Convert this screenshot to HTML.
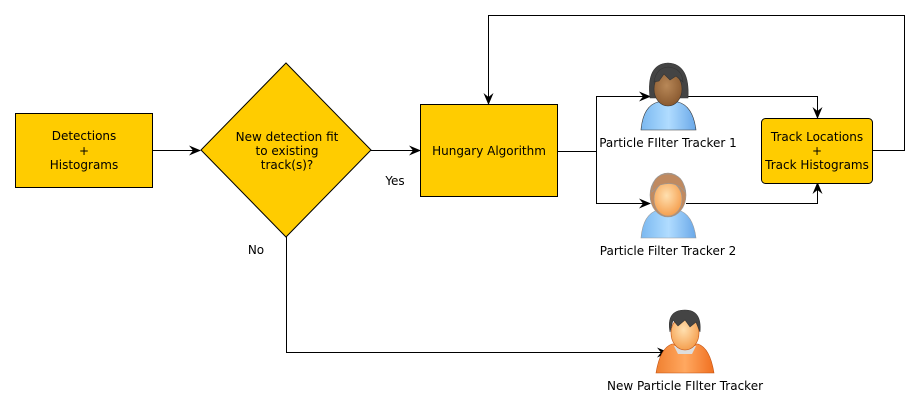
<!DOCTYPE html>
<html><head><meta charset="utf-8"><style>
html,body{margin:0;padding:0;background:#fff;}
svg{display:block;font-family:"DejaVu Sans","Liberation Sans",sans-serif;font-size:12px;}
</style></head><body>
<svg width="920" height="412" viewBox="0 0 920 412" xmlns="http://www.w3.org/2000/svg">
<defs>
<marker id="a" markerWidth="12" markerHeight="10" refX="11" refY="5" orient="auto" markerUnits="userSpaceOnUse">
<path d="M0,0 L12,5 L0,10 L4,5 Z" fill="#000"/></marker>
<radialGradient id="skin" cx="0.45" cy="0.4" r="0.6"><stop offset="0" stop-color="#ffe0b0"/><stop offset="1" stop-color="#f5a050"/></radialGradient>
<radialGradient id="dskin" cx="0.45" cy="0.4" r="0.6"><stop offset="0" stop-color="#b88858"/><stop offset="1" stop-color="#8a5a30"/></radialGradient>
<linearGradient id="shirt" x1="0" y1="0" x2="1" y2="0"><stop offset="0" stop-color="#7ab8f0"/><stop offset="0.5" stop-color="#b0dcff"/><stop offset="1" stop-color="#6aa8e8"/></linearGradient>
<linearGradient id="orange" x1="0" y1="0" x2="1" y2="0"><stop offset="0" stop-color="#f08030"/><stop offset="0.5" stop-color="#ffa860"/><stop offset="1" stop-color="#f07020"/></linearGradient>
</defs>
<g fill="none" stroke="#000" stroke-width="1">
<path d="M152,150.5 H200" marker-end="url(#a)"/>
<path d="M371,150.5 H420" marker-end="url(#a)"/>
<path d="M557,151.5 H596.5 V96.5 H650" marker-end="url(#a)"/>
<path d="M596.5,151 V203.5 H650" marker-end="url(#a)"/>
<path d="M688,96.5 H817.5 V118" marker-end="url(#a)"/>
<path d="M686,203.5 H817.5 V183" marker-end="url(#a)"/>
<path d="M872,150.5 H904.5 V15.5 H488.5 V104" marker-end="url(#a)"/>
<path d="M286.5,237 V352.5 H668" marker-end="url(#a)"/>
</g>
<rect x="15.5" y="113.5" width="137" height="74" fill="#ffcc00" stroke="#000"/>
<polygon points="286,63 371,150 286,237 201,150" fill="#ffcc00" stroke="#000"/>
<rect x="420.5" y="104.5" width="137" height="92" fill="#ffcc00" stroke="#000"/>
<rect x="761.5" y="118.5" width="111" height="65" rx="4" fill="#ffcc00" stroke="#000"/>
<g text-anchor="middle" fill="#000">
<text x="84" y="140">Detections</text><text x="84" y="155">+</text><text x="84" y="169">Histograms</text>
<text x="287" y="141">New detection fit</text><text x="287" y="155">to existing</text><text x="287" y="169">track(s)?</text>
<text x="489" y="155">Hungary Algorithm</text>
<text x="817" y="141">Track Locations</text><text x="817" y="155">+</text><text x="817" y="169">Track Histograms</text>
<text x="395" y="185">Yes</text>
<text x="256" y="254">No</text>
<text x="668" y="147">Particle FIlter Tracker 1</text>
<text x="668" y="255">Particle Filter Tracker 2</text>
<text x="685" y="390">New Particle FIlter Tracker</text>
</g>
<!-- person 1 -->
<g stroke="#333" stroke-width="0.6">
<path d="M641,130 Q643,106 658,102 L678,102 Q693,106 696,130 Z" fill="url(#shirt)"/>
<path d="M650,98 Q646,64 668,63 Q690,64 688,98 Z" fill="#444"/>
<ellipse cx="668" cy="89" rx="14" ry="17" fill="url(#dskin)"/>
<path d="M654,82 Q656,68 668,67 Q682,68 683,82 L676,76 L670,80 L664,74 L659,81 Z" fill="#444"/>
</g>
<!-- person 2 -->
<g stroke="#999" stroke-width="0.6">
<path d="M641,238 Q643,214 658,210 L678,210 Q693,214 696,238 Z" fill="url(#shirt)"/>
<ellipse cx="668" cy="195" rx="18" ry="22" fill="#c08a60"/>
<ellipse cx="668" cy="199" rx="14" ry="17" fill="url(#skin)"/>
<path d="M652,192 Q652,174 668,174 Q684,174 685,192 Q676,180 660,185 Z" fill="#c08a60"/>
</g>
<!-- new person -->
<g stroke="#c05010" stroke-width="0.6">
<path d="M656,373 Q660,348 672,344 L698,344 Q710,348 714,373 Z" fill="url(#orange)"/>
<path d="M674,346 H696 L692,354 H678 Z" fill="#ddd" stroke="none"/>
<ellipse cx="685" cy="333" rx="14" ry="17" fill="url(#skin)"/>
<path d="M670,332 Q666,310 685,310 Q702,310 700,332 L696,322 L690,327 L685,320 L678,326 L673,320 Z" fill="#444" stroke="#333"/>
</g>
</svg>
</body></html>
